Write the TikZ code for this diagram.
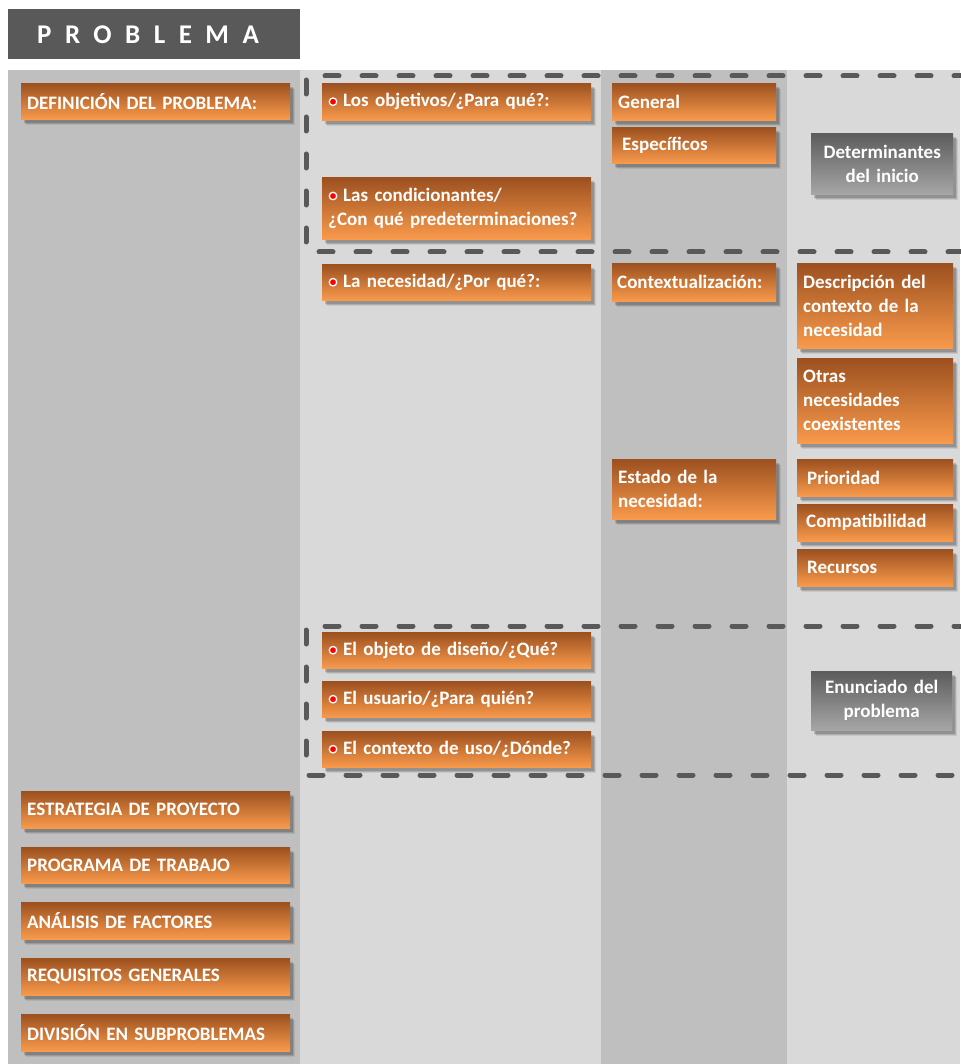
\documentclass[tikz,border=0pt]{standalone}
\usepackage{fontspec}
\setmainfont{Carlito}[WordSpace=0.75]
\usetikzlibrary{shadows,calc}

\definecolor{titlegray}{HTML}{595959}
\definecolor{coldark}{HTML}{BFBFBF}
\definecolor{collight}{HTML}{D9D9D9}
\definecolor{orgtop}{HTML}{9C501F}
\definecolor{orgmid}{HTML}{DD7C2E}
\definecolor{orgbot}{HTML}{F99A4C}
\definecolor{gtop}{HTML}{5C5C5C}
\definecolor{gbot}{HTML}{A6A6A6}
\definecolor{dashgray}{HTML}{595959}
\definecolor{dotred}{HTML}{FF0000}

\tikzset{
  % soft shadow built from stacked offset layers
  boxshadow/.style={
    drop shadow={shadow xshift=5pt, shadow yshift=-6pt, fill=black, opacity=0.08},
    drop shadow={shadow xshift=4pt, shadow yshift=-5pt, fill=black, opacity=0.12},
    drop shadow={shadow xshift=2.5pt, shadow yshift=-3.5pt, fill=black, opacity=0.16}},
  basebox/.style={anchor=north west, inner xsep=6pt, inner ysep=0pt, text=white,
    font=\bfseries\fontsize{19}{24}\selectfont, boxshadow},
  obox/.style={basebox, top color=orgtop, middle color=orgmid, bottom color=orgbot, align=left},
  gbox/.style={basebox, top color=gtop, bottom color=gbot, align=center},
  wide/.style={minimum width=269pt, text width=257pt},
  mid/.style={minimum width=164pt, text width=152pt},
  narrow/.style={minimum width=156pt, text width=144pt},
  tall/.style={minimum height=#1},
  rdot/.style={circle, fill=dotred, draw=white, line width=1.3pt, inner sep=0pt, minimum size=7.5pt},
  dashbox/.style={draw=dashgray, line width=5pt, line cap=round, dash pattern=on 14pt off 23pt},
}

\begin{document}
\begin{tikzpicture}[x=1pt, y=-1pt]
  \useasboundingbox[fill=white] (0,0) rectangle (960,1064);

  % column bands
  \fill[coldark]  (8,70)   rectangle (300,1064);
  \fill[collight] (300,70) rectangle (601,1064);
  \fill[coldark]  (601,70) rectangle (787,1064);
  \fill[collight] (787,70) rectangle (960,1064);

  % heading
  \node[fill=titlegray, anchor=north west, minimum width=292pt, minimum height=50pt, inner sep=0pt] (head) at (8,9) {};
  \node[anchor=west, text=white, inner sep=0pt, font=\bfseries\fontsize{27}{30}\selectfont\addfontfeature{LetterSpace=50}] (headtxt) at (37,35) {PROBLEMA};

  % dashed groupings
  \coordinate (g1a) at (968,76);
  \coordinate (g1b) at (306,76);
  \coordinate (g1c) at (306,252);
  \coordinate (g1d) at (968,252);
  \draw[dashbox] (g1a) -- (g1b) -- (g1c) -- (g1d);
  \coordinate (g2a) at (968,626);
  \coordinate (g2b) at (306,626);
  \coordinate (g2c) at (306,775);
  \coordinate (g2d) at (968,775);
  \draw[dashbox] (g2a) -- (g2b) -- (g2c) -- (g2d);

  % left column
  \node[obox, wide, tall=36pt] (def) at (21,83) {DEFINICIÓN DEL PROBLEMA:};
  \node[obox, wide, tall=37pt] (est) at (21,791) {ESTRATEGIA DE PROYECTO};
  \node[obox, wide, tall=36pt] (prog) at (21,847) {PROGRAMA DE TRABAJO};
  \node[obox, wide, tall=37pt] (anal) at (21,902) {ANÁLISIS DE FACTORES};
  \node[obox, wide, tall=37pt] (req) at (21,958) {REQUISITOS GENERALES};
  \node[obox, wide, tall=37pt] (div) at (21,1014) {DIVISIÓN EN SUBPROBLEMAS};

  % second column
  \node[obox, wide, tall=37pt] (obj) at (322,83) {\hspace*{15pt}Los objetivos/¿Para qué?:};
  \node[obox, wide, tall=62pt] (cond) at (322,177) {\hspace*{15pt}Las condicionantes/\\¿Con qué predeterminaciones?};
  \node[obox, wide, tall=36pt] (nec) at (322,264) {\hspace*{15pt}La necesidad/¿Por qué?:};
  \node[obox, wide, tall=36pt] (odis) at (322,632) {\hspace*{15pt}El objeto de diseño/¿Qué?};
  \node[obox, wide, tall=36pt] (usu) at (322,681) {\hspace*{15pt}El usuario/¿Para quién?};
  \node[obox, wide, tall=36pt] (ctx) at (322,731) {\hspace*{15pt}El contexto de uso/¿Dónde?};

  \node[rdot] (d1) at ($(obj.west)+(11,0)$) {};
  \node[rdot] (d2) at ($(cond.north west)+(11,19)$) {};
  \node[rdot] (d3) at ($(nec.west)+(11,0)$) {};
  \node[rdot] (d4) at ($(odis.west)+(11,0)$) {};
  \node[rdot] (d5) at ($(usu.west)+(11,0)$) {};
  \node[rdot] (d6) at ($(ctx.west)+(11,0)$) {};

  % third column
  \node[obox, mid, tall=37pt] (gen) at (612,83) {General};
  \node[obox, mid, tall=36pt] (esp) at (612,127) {\hspace*{4pt}Específicos};
  \node[obox, mid, tall=38pt] (cont) at (612,263) {\hspace*{-1pt}Contextualización:};
  \node[obox, mid, tall=60pt] (estado) at (612,459) {Estado de la\\necesidad:};

  % fourth column
  \node[gbox, minimum width=138pt, text width=130pt, tall=61pt] (detini) at (811,133) {Determinantes\\del inicio};
  \node[obox, narrow, tall=85pt] (desc) at (797,263) {Descripción del\\contexto de la\\necesidad};
  \node[obox, narrow, tall=85pt] (otras) at (797,358) {Otras\\necesidades\\coexistentes};
  \node[obox, narrow, tall=37pt] (prio) at (797,459) {\hspace*{4pt}Prioridad};
  \node[obox, narrow, tall=37pt] (comp) at (797,504) {\hspace*{3pt}Compatibilidad};
  \node[obox, narrow, tall=37pt] (rec) at (797,549) {\hspace*{4pt}Recursos};
  \node[gbox, minimum width=137pt, text width=129pt, tall=59pt] (enun) at (811,671) {Enunciado del\\problema};
\end{tikzpicture}
\end{document}
